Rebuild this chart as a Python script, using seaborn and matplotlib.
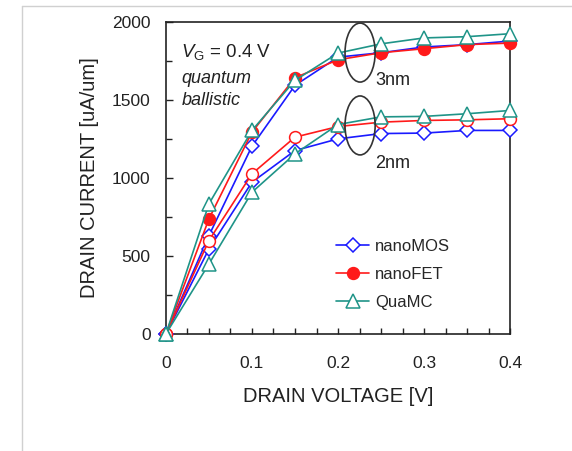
import numpy as np
import pandas as pd
import matplotlib
matplotlib.use("Agg")
import matplotlib.pyplot as plt
from matplotlib.patches import Ellipse
from matplotlib.lines import Line2D
import seaborn as sns

# Drain voltage sweep [V]
vd = [0.0, 0.05, 0.1, 0.15, 0.2, 0.25, 0.3, 0.35, 0.4]

# Drain current [uA/um]
nanomos_3nm = [0, 631, 1204, 1594, 1775, 1803, 1840, 1855, 1878]
nanofet_3nm = [0, 738, 1294, 1643, 1758, 1803, 1829, 1855, 1865]
quamc_3nm = [0, 834, 1305, 1626, 1801, 1860, 1898, 1906, 1925]

nanomos_2nm = [0, 545, 973, 1176, 1251, 1285, 1288, 1305, 1305]
nanofet_2nm = [0, 599, 1027, 1262, 1330, 1358, 1369, 1373, 1380]
quamc_2nm = [0, 449, 909, 1155, 1343, 1392, 1395, 1412, 1433]

series_names = ["nanoMOS", "nanoFET", "QuaMC"]
x_ticks = [0, 0.1, 0.2, 0.3, 0.4]
x_ticklabels = ["0", "0.1", "0.2", "0.3", "0.4"]
y_ticks = [0, 500, 1000, 1500, 2000]

sns.set_theme(style="ticks")
plt.rcParams["font.family"] = ["Liberation Sans", "DejaVu Sans"]
plt.rcParams["mathtext.fontset"] = "custom"
plt.rcParams["mathtext.rm"] = "Liberation Sans"
plt.rcParams["mathtext.it"] = "Liberation Sans:italic"

fig = plt.figure(figsize=(5.72, 4.51), dpi=100)
ax = fig.add_axes([0.290, 0.2594, 0.602, 0.6918])

blue = "#1a1aff"
red = "#ff1a1a"
teal = "#1f9488"
ink = "#222222"

styles = {
    "nanoMOS": dict(color=blue, marker="D", markersize=7.5, markerfacecolor="white",
                    markeredgecolor=blue, markeredgewidth=1.1),
    "nanoFET": dict(color=red, marker="o", markersize=8.5, markerfacecolor=red,
                    markeredgecolor=red, markeredgewidth=1.1),
    "QuaMC": dict(color=teal, marker="^", markersize=9.5, markerfacecolor="white",
                  markeredgecolor=teal, markeredgewidth=1.1),
}

data_3nm = {"nanoMOS": nanomos_3nm, "nanoFET": nanofet_3nm, "QuaMC": quamc_3nm}
data_2nm = {"nanoMOS": nanomos_2nm, "nanoFET": nanofet_2nm, "QuaMC": quamc_2nm}

for i, name in enumerate(series_names):
    st = dict(styles[name])
    df3 = pd.DataFrame({"V": vd, "I": data_3nm[name]})
    sns.lineplot(data=df3, x="V", y="I", ax=ax, sort=False, estimator=None,
                 linewidth=1.2, clip_on=False, zorder=3 + i, **st)
    st2 = dict(st)
    st2["markerfacecolor"] = "white"
    df2 = pd.DataFrame({"V": vd, "I": data_2nm[name]})
    sns.lineplot(data=df2, x="V", y="I", ax=ax, sort=False, estimator=None,
                 linewidth=1.2, clip_on=False, zorder=3 + i, **st2)

ax.set_xlim(0, 0.4)
ax.set_ylim(0, 2000)
ax.set_xticks(x_ticks)
ax.set_xticklabels(x_ticklabels)
ax.set_yticks(y_ticks)
ax.set_xticks(np.arange(0, 0.4001, 0.025), minor=True)
ax.set_yticks(np.arange(0, 2001, 250), minor=True)
ax.tick_params(axis="both", which="both", direction="in", top=False, right=False,
               labelsize=12.5, colors=ink, width=1.0)
ax.tick_params(axis="y", which="major", length=5, pad=11)
ax.tick_params(axis="x", which="major", length=4, pad=16)
ax.tick_params(axis="both", which="minor", length=4)
for sp in ax.spines.values():
    sp.set_visible(True)
    sp.set_linewidth(1.2)
    sp.set_color(ink)

ax.set_xlabel("DRAIN VOLTAGE [V]", fontsize=14.5, labelpad=11, color=ink)
ax.set_ylabel("DRAIN CURRENT [uA/um]", fontsize=14.5, labelpad=9, color=ink)

# ellipses grouping the 3nm and 2nm curves
for yc, h in [(1804, 378), (1337, 378)]:
    ax.add_patch(Ellipse((0.2256, yc), 0.035, h, fill=False, edgecolor="#333333",
                         linewidth=1.2, zorder=10))
ax.text(0.243, 1622, "3nm", fontsize=13, ha="left", va="center", color=ink)
ax.text(0.243, 1096, "2nm", fontsize=13, ha="left", va="center", color=ink)

ax.text(0.018, 1810, r"$V_{\mathrm{G}}$ = 0.4 V", fontsize=13.5, ha="left", va="center",
        color=ink)
ax.text(0.018, 1635, "quantum", fontsize=13, style="italic", ha="left", va="center",
        color=ink)
ax.text(0.018, 1500, "ballistic", fontsize=13, style="italic", ha="left", va="center",
        color=ink)

handles = [Line2D([0], [0], linewidth=1.2, **styles[n]) for n in series_names]
ax.legend(handles, series_names, loc="center left", bbox_to_anchor=(0.494, 0.192),
          frameon=False, fontsize=12, handlelength=2.0, handletextpad=0.35,
          labelspacing=0.78, borderaxespad=0, borderpad=0)

# light frame around the figure like the source page
fig.add_artist(Line2D([22 / 572, 22 / 572], [0, 1 - 6 / 451], transform=fig.transFigure,
                      color="#d0d0d0", linewidth=1.0))
fig.add_artist(Line2D([22 / 572, 1], [1 - 6 / 451, 1 - 6 / 451], transform=fig.transFigure,
                      color="#d0d0d0", linewidth=1.0))

fig.savefig("out.png", dpi=100, facecolor="white")
